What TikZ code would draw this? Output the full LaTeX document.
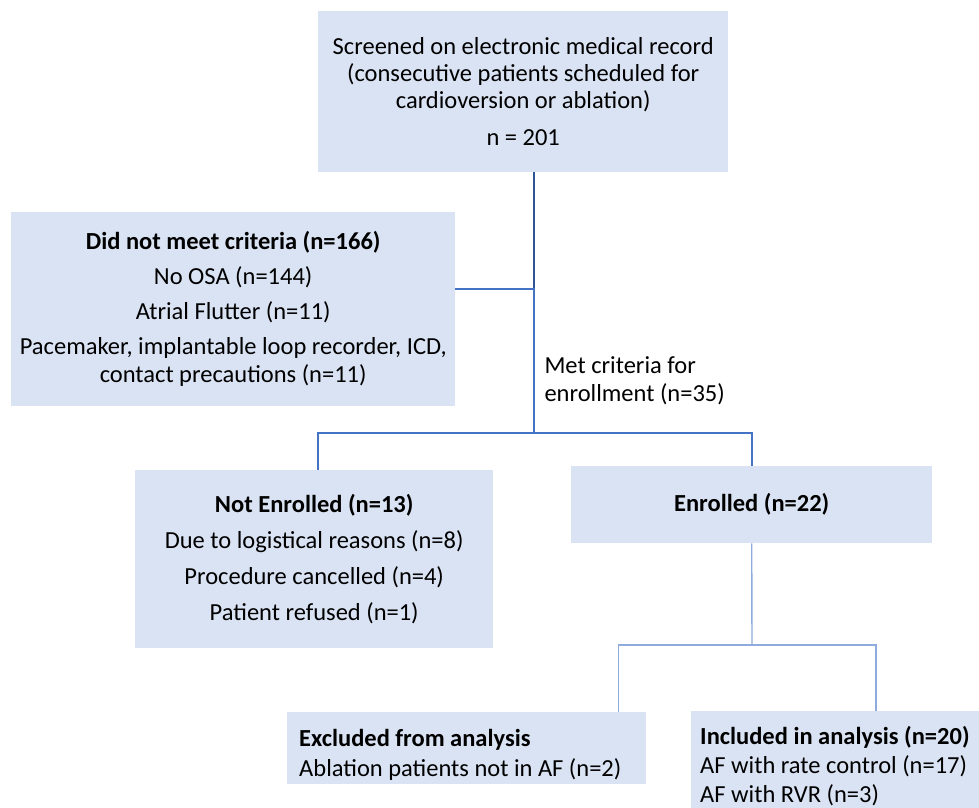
\documentclass[tikz,border=0pt]{standalone}
\usepackage{fontspec}
\setmainfont{Carlito}
\usetikzlibrary{positioning,calc}

\definecolor{boxblue}{HTML}{DAE3F3}
\definecolor{darkline}{HTML}{2F5597}
\definecolor{midline}{HTML}{4472C4}
\definecolor{lightline}{HTML}{8FAADC}

\tikzset{
  stage/.style={rectangle, fill=boxblue, inner sep=0pt, align=center,
                anchor=north west, font=\fontsize{24.5}{28}\selectfont},
  leftstage/.style={stage, align=flush left, inner xsep=12pt},
  trunk/.style={darkline, line width=2.6pt},
  branch/.style={midline, line width=1.6pt},
  twig/.style={lightline, line width=1.4pt}
}

\begin{document}
\begin{tikzpicture}[x=1pt, y=-1pt]
  \useasboundingbox (0,0) rectangle (979,807);

  % boxes
  \node[stage, font=\fontsize{24.5}{27}\selectfont, minimum width=410pt, minimum height=161pt] (screen) at (318,11)
    {Screened on electronic medical record\\(consecutive patients scheduled for\\cardioversion or ablation)\\[10pt]n = 201};
  \node[stage, minimum width=444pt, minimum height=194pt] (fail) at (11,212)
    {\textbf{Did not meet criteria (n=166)}\\[7pt]No OSA (n=144)\\[7pt]Atrial Flutter (n=11)\\[7pt]Pacemaker, implantable loop recorder, ICD,\\contact precautions (n=11)};
  \node[stage, minimum width=358pt, minimum height=178pt] (notenr) at (135,470)
    {\textbf{Not Enrolled (n=13)}\\[8pt]Due to logistical reasons (n=8)\\[8pt]Procedure cancelled (n=4)\\[8pt]Patient refused (n=1)};
  \node[stage, minimum width=361pt, minimum height=77pt] (enr) at (571,466)
    {\textbf{Enrolled (n=22)}};
  \node[leftstage, text width=335pt, minimum height=72pt] (excl) at (287,712)
    {\rule{0pt}{30pt}\textbf{Excluded from analysis}\\[2pt]Ablation patients not in AF (n=2)};
  \node[leftstage, inner xsep=9pt, text width=320pt, minimum height=110pt] (incl) at (691,711)
    {\textbf{Included in analysis (n=20)}\\[1pt]AF with rate control (n=17)\\[1pt]AF with RVR (n=3)};

  \node[anchor=west, align=left, font=\fontsize{24.5}{28}\selectfont] (metlbl) at (541,381)
    {Met criteria for\\enrollment (n=35)};

  % connectors
  \coordinate (join) at (534,289);
  \coordinate (split) at (534,433);
  \coordinate (split2) at (752,645);
  \draw[trunk] (screen.south -| join) -- (join);
  \draw[branch] (fail.east |- join) -- (join) -- (split);
  \draw[branch] ([xshift=4pt]notenr.north) |- (split) -| (enr.north);
  \draw[twig] (enr.south) -- (split2);
  \draw[twig] ([xshift=-28pt]excl.north east) |- (split2) -| ([xshift=185pt]incl.north west);
\end{tikzpicture}
\end{document}
